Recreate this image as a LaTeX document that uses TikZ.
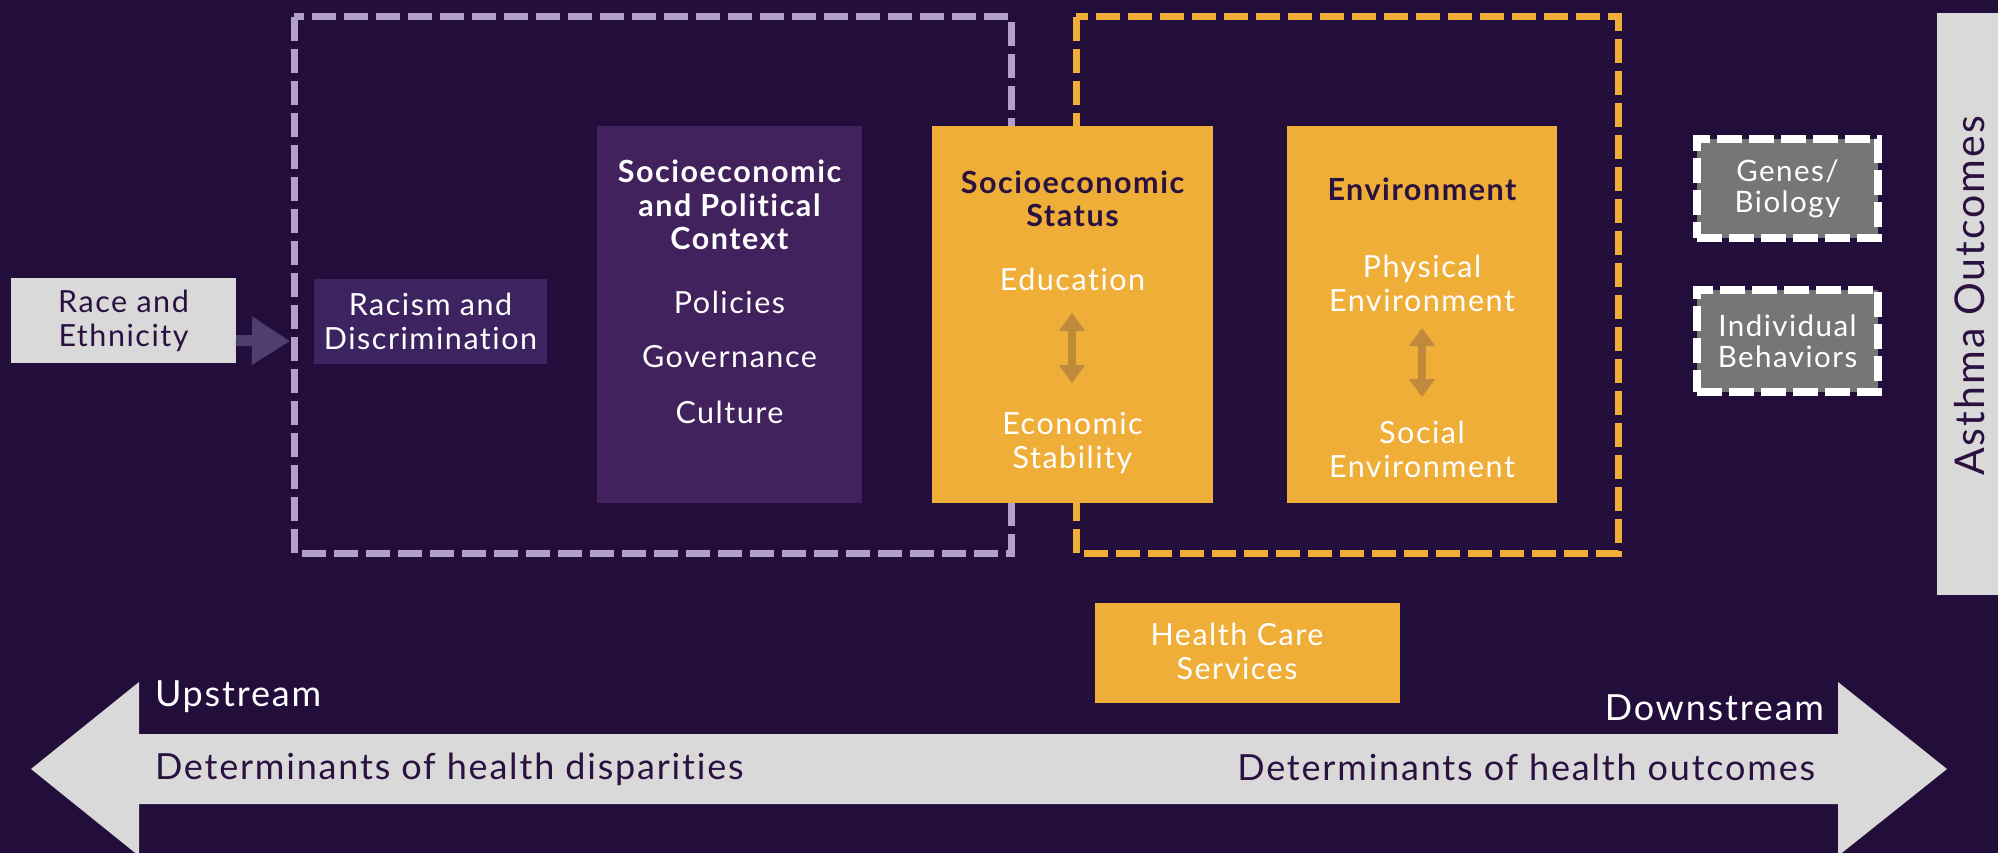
\documentclass[tikz,border=0pt]{standalone}
\usepackage{fontspec}
\setmainfont{Lato}[LetterSpace=5, Ligatures=NoCommon]
\usetikzlibrary{arrows.meta}

\definecolor{bgpurple}{HTML}{220D3B}
\definecolor{lavender}{HTML}{B3A0C8}
\definecolor{gold}{HTML}{EFAE38}
\definecolor{darkgold}{HTML}{C08A3C}
\definecolor{plum}{HTML}{41225D}
\definecolor{plumlight}{HTML}{3E2361}
\definecolor{lightgray}{HTML}{D9D9D9}
\definecolor{midgray}{HTML}{767676}
\definecolor{inkpurple}{HTML}{2A1140}
\definecolor{linkpurple}{HTML}{4E3F70}

\tikzset{
  block/.style={rectangle, inner sep=0pt, outer sep=0pt},
  txt/.style={inner sep=0pt, outer sep=0pt, align=center, text=white,
    font=\fontsize{30.5}{34}\selectfont},
  head/.style={txt, font=\fontsize{30.5}{33.5}\bfseries\selectfont},
  axistxt/.style={txt, font=\fontsize{36}{40}\selectfont},
  factor/.style={block, fill=midgray, draw=white, line width=8pt,
    dash pattern=on 25pt off 7pt},
  twoway/.style={draw=darkgold, line width=8pt,
    {Triangle[width=25pt,length=18pt]}-{Triangle[width=25pt,length=18pt]}},
}

\begin{document}
\begin{tikzpicture}[x=1pt, y=-1pt]
    \fill[bgpurple] (0, 0) rectangle (1998, 853);
    \useasboundingbox (0, 0) rectangle (1998, 853);

    % dashed groupings
    \draw[lavender, line width=7pt, dash pattern=on 24pt off 8pt] (294, 17) rectangle (1011, 553);
    \draw[gold, line width=7pt, dash pattern=on 24pt off 8pt] (1076, 17) rectangle (1618, 553);

    % upstream boxes
    \draw (123.5, 320.5) node[block, fill=lightgray, minimum width=225, minimum height=85](race){};
    \draw (123.5, 320.5) node[txt, text=inkpurple](racetxt){Race and\\Ethnicity};
    \draw (430.5, 321.5) node[block, fill=plumlight, minimum width=233, minimum height=85](racism){};
    \draw (430.5, 321.5) node[txt](racismtxt){Racism and\\Discrimination};
    \draw[linkpurple, line width=11pt, -{Triangle[width=46pt, length=38pt]}, shorten >=24pt]
        ([yshift=-20pt]race.east) -- ([yshift=-20pt]racism.west);

    \draw (729.5, 314.5) node[block, fill=plum, minimum width=265, minimum height=377](context){};
    \draw (729.5, 205) node[head](contexttitle){Socioeconomic\\and Political\\Context};
    \draw (729.5, 302) node[txt](policies){Policies};
    \draw (729.5, 357) node[txt](governance){Governance};
    \draw (729.5, 412) node[txt](culture){Culture};

    % socioeconomic status
    \draw (1072.5, 314.5) node[block, fill=gold, minimum width=281, minimum height=377](ses){};
    \draw (1072.5, 199) node[head, text=inkpurple](sestitle){Socioeconomic\\Status};
    \draw (1072.5, 279) node[txt](edu){Education};
    \draw (1072.5, 442.5) node[txt](eco){Economic\\Stability};
    \coordinate (sestop) at (1072, 313);
    \coordinate (sesbot) at (1072, 383);
    \draw[twoway] (sestop) -- (sesbot);

    % environment
    \draw (1422, 314.5) node[block, fill=gold, minimum width=270, minimum height=377](env){};
    \draw (1422, 189) node[head, text=inkpurple](envtitle){Environment};
    \draw (1422, 283) node[txt](phys){Physical\\Environment};
    \draw (1422, 449.5) node[txt](social){Social\\Environment};
    \coordinate (envtop) at (1422, 328);
    \coordinate (envbot) at (1422, 397);
    \draw[twoway] (envtop) -- (envbot);

    % downstream factors
    \draw (1787.5, 188.5) node[factor, minimum width=181, minimum height=99](genes){};
    \draw (1787.5, 188.5) node[txt, font=\fontsize{29.5}{31}\selectfont](genestxt){Genes/\\Biology};
    \draw (1787.5, 341) node[factor, minimum width=181, minimum height=102](behav){};
    \draw (1787.5, 341) node[txt, font=\fontsize{29.5}{31}\selectfont](behavtxt){Individual\\Behaviors};

    \draw (1247.5, 653) node[block, fill=gold, minimum width=305, minimum height=100](care){};
    \draw (1237, 651.5) node[txt](caretxt){Health Care\\Services};

    % outcome bar
    \draw (1967.5, 304) node[block, fill=lightgray, minimum width=61, minimum height=582](outcome){};
    \draw (1970, 296) node[txt, text=inkpurple, rotate=90, font=\fontsize{41}{46}\selectfont](outcometxt){Asthma Outcomes};

    % upstream / downstream axis
    \fill[lightgray] (31, 769) -- (139, 682) -- (139, 734) -- (1838, 734) -- (1838, 682)
        -- (1947, 769) -- (1838, 856) -- (1838, 804) -- (139, 804) -- (139, 856) -- cycle;
    \draw (155, 697) node[axistxt, anchor=west](up){Upstream};
    \draw (1824, 708) node[axistxt, anchor=east](down){Downstream};
    \draw (155, 769) node[axistxt, text=inkpurple, anchor=west](disp){Determinants of health disparities};
    \draw (1815, 767) node[axistxt, text=inkpurple, anchor=east](outc){Determinants of health outcomes};
\end{tikzpicture}
\end{document}
